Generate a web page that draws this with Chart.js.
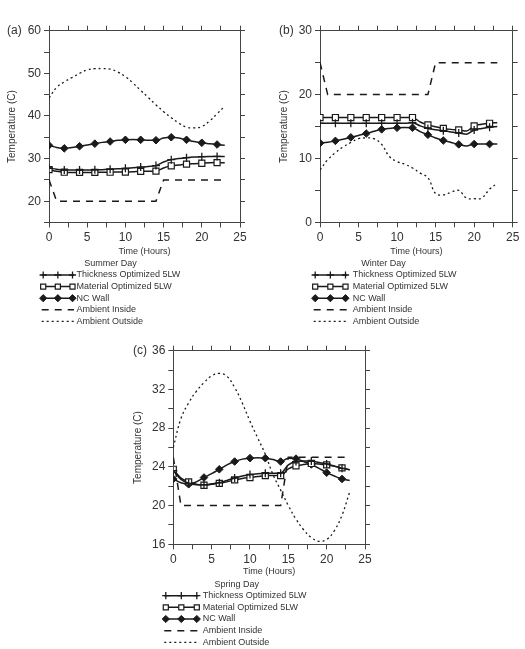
<!DOCTYPE html>
<html>
<head>
<meta charset="utf-8">
<script src="https://cdn.jsdelivr.net/npm/chart.js@4.4.1/dist/chart.umd.min.js"></script>
<style>
body { margin: 0; background: #fff; width: 525px; height: 649px; position: relative; overflow: hidden; }
canvas { position: absolute; }
#chartA { left: 0; top: 0; }
#chartB { left: 262px; top: 0; }
#chartC { left: 120px; top: 335px; }
</style>
</head>
<body>
<canvas id="chartA" width="262" height="335"></canvas>
<canvas id="chartB" width="263" height="335"></canvas>
<canvas id="chartC" width="262" height="314"></canvas>
<script>
// hours of the day
const hours = [0, 1, 2, 3, 4, 5, 6, 7, 8, 9, 10, 11, 12, 13, 14, 15, 16, 17, 18, 19, 20, 21, 22, 23];
const seriesNames = ['Thickness Optimized 5LW', 'Material Optimized 5LW', 'NC Wall', 'Ambient Inside', 'Ambient Outside'];

// (a) summer day
const summerThickness = [27.8, 27.5, 27.3, 27.3, 27.3, 27.3, 27.35, 27.4, 27.5, 27.6, 27.7, 27.85, 28.0, 28.15, 28.35, 29.2, 29.75, 30.0, 30.2, 30.35, 30.45, 30.5, 30.5, 30.5];
const summerMaterial = [27.4, 27.0, 26.8, 26.75, 26.75, 26.75, 26.75, 26.8, 26.8, 26.85, 26.85, 26.9, 27.0, 27.0, 27.05, 27.8, 28.3, 28.5, 28.7, 28.8, 28.9, 29.0, 29.05, 29.0];
const summerNC = [33.1, 32.6, 32.4, 32.6, 32.9, 33.2, 33.5, 33.8, 34.0, 34.3, 34.4, 34.5, 34.4, 34.3, 34.3, 34.8, 35.0, 34.8, 34.4, 34.0, 33.7, 33.5, 33.3, 33.1];
const summerInside = [25, 20, 20, 20, 20, 20, 20, 20, 20, 20, 20, 20, 20, 20, 20, 25, 25, 25, 25, 25, 25, 25, 25, 25];
const summerOutside = [44.2, 46.7, 48.0, 49.0, 50.0, 50.8, 51.1, 51.1, 51.0, 50.3, 49.2, 47.7, 46.0, 44.3, 42.6, 41.0, 39.6, 38.3, 37.4, 37.2, 37.5, 38.8, 40.5, 42.3];

// (b) winter day
const winterThickness = [15.5, 15.5, 15.5, 15.5, 15.5, 15.5, 15.5, 15.5, 15.5, 15.5, 15.5, 15.5, 15.6, 15.1, 14.7, 14.5, 14.35, 14.15, 14.0, 13.8, 14.45, 14.7, 14.9, 15.0];
const winterMaterial = [16.4, 16.4, 16.4, 16.4, 16.4, 16.4, 16.4, 16.4, 16.4, 16.4, 16.4, 16.4, 16.4, 15.7, 15.25, 14.95, 14.7, 14.55, 14.45, 14.3, 15.1, 15.35, 15.5, 15.6];
const winterNC = [12.4, 12.55, 12.75, 13.0, 13.3, 13.6, 13.9, 14.25, 14.55, 14.7, 14.8, 14.85, 14.8, 14.2, 13.7, 13.2, 12.8, 12.5, 12.2, 11.95, 12.25, 12.25, 12.25, 12.25];
const winterInside = [25, 20, 20, 20, 20, 20, 20, 20, 20, 20, 20, 20, 20, 20, 20, 25, 25, 25, 25, 25, 25, 25, 25, 25];
const winterOutside = [8.2, 9.8, 10.9, 11.8, 12.5, 13.1, 13.2, 13.1, 12.2, 10.3, 9.5, 9.1, 8.5, 7.7, 7.0, 4.5, 4.3, 4.7, 5.0, 3.8, 3.7, 3.8, 5.2, 6.1];

// (c) spring day
const springThickness = [23.6, 22.7, 22.3, 22.15, 22.15, 22.25, 22.35, 22.6, 22.85, 23.05, 23.2, 23.3, 23.35, 23.35, 23.35, 24.2, 24.55, 24.6, 24.6, 24.45, 24.3, 24.1, 23.85, 23.7];
const springMaterial = [23.75, 22.85, 22.45, 22.2, 22.1, 22.2, 22.3, 22.45, 22.65, 22.8, 22.9, 23.0, 23.1, 23.1, 23.1, 23.8, 24.1, 24.25, 24.35, 24.3, 24.2, 24.05, 23.9, 23.7];
const springNC = [22.75, 22.35, 22.2, 22.45, 22.9, 23.3, 23.75, 24.2, 24.55, 24.8, 24.9, 24.95, 24.9, 24.75, 24.55, 24.9, 24.85, 24.55, 24.25, 23.85, 23.4, 23.05, 22.75, 22.6];
const springInside = [25, 20, 20, 20, 20, 20, 20, 20, 20, 20, 20, 20, 20, 20, 20, 25, 25, 25, 25, 25, 25, 25, 25, 25];
const springOutside = [26.0, 29.0, 30.6, 31.8, 32.7, 33.4, 33.65, 33.35, 32.2, 30.6, 28.7, 27.0, 25.3, 23.2, 21.6, 20.0, 18.6, 17.5, 16.7, 16.3, 16.5, 17.4, 19.0, 21.4];

const FONT = '"Liberation Sans", Arial, sans-serif';
const INK = '#1a1a1a';
const AXIS = '#444';
Chart.defaults.font.family = FONT;
Chart.defaults.color = '#333';

// marker only every 2 hours
const everyOther = r => c => (c.dataIndex % 2 === 0 ? r : 0);

const styles = [
    { pointStyle: 'cross', pointRadius: everyOther(4), pointBorderWidth: 1.3, pointBackgroundColor: INK, cubicInterpolationMode: 'monotone', marker: true },
    { pointStyle: 'rect', pointRadius: everyOther(4.3), pointBorderWidth: 1.2, pointBackgroundColor: '#fff', cubicInterpolationMode: 'monotone', marker: true },
    { pointStyle: 'rectRot', pointRadius: everyOther(3.8), pointBorderWidth: 1, pointBackgroundColor: INK, cubicInterpolationMode: 'monotone', marker: true },
    { pointRadius: 0, borderDash: [7, 6], tension: 0 },
    { pointRadius: 0, borderDash: [2, 3], borderWidth: 1.3, tension: 0.4 }
];

function buildDatasets(list) {
    return list.map((values, i) => Object.assign({
        label: seriesNames[i],
        data: hours.map((h, k) => ({ x: h, y: values[k] })),
        borderColor: INK,
        pointBorderColor: INK,
        borderWidth: 1.5,
        pointHoverRadius: 0
    }, styles[i]));
}

// panel label + the legend stacked under the plot
const stackLegend = {
    id: 'stackLegend',
    afterDraw(chart, args, o) {
        const ctx = chart.ctx;
        ctx.save();
        ctx.fillStyle = '#333';
        ctx.textBaseline = 'middle';
        ctx.font = '12px ' + FONT;
        ctx.textAlign = 'left';
        ctx.fillText(o.panel, o.panelX, o.panelY);
        ctx.font = '9px ' + FONT;
        ctx.textAlign = 'center';
        ctx.fillText(o.title, o.titleX, o.titleY);
        chart.data.datasets.forEach((ds, i) => {
            const y = o.rowY + i * o.rowStep;
            ctx.strokeStyle = ds.borderColor;
            ctx.lineWidth = ds.borderWidth;
            ctx.setLineDash(ds.borderDash || []);
            ctx.beginPath();
            ctx.moveTo(o.x0, y);
            ctx.lineTo(o.x1, y);
            ctx.stroke();
            ctx.setLineDash([]);
            if (ds.marker) {
                const mid = (o.x0 + o.x1) / 2;
                [o.x0 + 1.5, mid, o.x1 - 1.5].forEach(x => {
                    ctx.fillStyle = ds.pointBackgroundColor;
                    ctx.strokeStyle = ds.pointBorderColor;
                    ctx.lineWidth = ds.pointBorderWidth;
                    Chart.helpers.drawPoint(ctx, { pointStyle: ds.pointStyle, radius: 3.6, borderWidth: ds.pointBorderWidth, rotation: 0 }, x, y);
                });
            }
            ctx.fillStyle = '#333';
            ctx.textAlign = 'left';
            ctx.fillText(ds.label, o.textX, y);
        });
        ctx.restore();
    }
};

function makeChart(id, p) {
    const grid = { drawOnChartArea: false, tickLength: 5, color: AXIS, lineWidth: 1 };
    const border = { color: AXIS, width: 1 };
    return new Chart(document.getElementById(id), {
        type: 'line',
        data: { datasets: buildDatasets(p.series) },
        options: {
            responsive: false,
            animation: false,
            events: [],
            layout: { padding: { left: 0, top: 0, right: 0, bottom: p.padBottom } },
            plugins: {
                legend: { display: false },
                tooltip: { enabled: false },
                stackLegend: p.legend
            },
            scales: {
                x: {
                    type: 'linear', position: 'bottom', min: 0, max: 25,
                    ticks: { stepSize: 2.5, autoSkip: false, maxRotation: 0, padding: 3, font: { size: 12 },
                        callback: v => (v % 5 === 0 ? String(v) : '') },
                    grid, border,
                    title: { display: true, text: 'Time (Hours)', font: { size: 9 }, padding: { top: 0, bottom: 2 } },
                    afterFit: s => { s.height = p.bottomH; }
                },
                x2: {
                    type: 'linear', position: 'top', min: 0, max: 25,
                    ticks: { stepSize: 2.5, display: false },
                    grid, border,
                    afterFit: s => { s.height = p.top; }
                },
                y: {
                    type: 'linear', position: 'left', min: p.yMin, max: p.yMax,
                    ticks: { stepSize: p.yStep, autoSkip: false, padding: 3, font: { size: 12 },
                        callback: v => (v % p.yMajor === 0 ? String(v) : '') },
                    grid, border,
                    title: { display: true, text: 'Temperature (C)', font: { size: 10 }, padding: { top: p.titlePad, bottom: 0 } },
                    afterFit: s => { s.width = p.left; }
                },
                y2: {
                    type: 'linear', position: 'right', min: p.yMin, max: p.yMax,
                    ticks: { stepSize: p.yStep, display: false },
                    grid, border,
                    afterFit: s => { s.width = p.rightW; }
                }
            }
        },
        plugins: [stackLegend]
    });
}

makeChart('chartA', {
    series: [summerThickness, summerMaterial, summerNC, summerInside, summerOutside],
    yMin: 15, yMax: 60, yStep: 5, yMajor: 10,
    top: 30.7, left: 49, rightW: 22, bottomH: 36.6, padBottom: 75.9, titlePad: 6.5,
    legend: { panel: '(a)', panelX: 7, panelY: 31, title: 'Summer Day', titleX: 110.5, titleY: 264,
        x0: 41.7, x1: 74, textX: 76.5, rowY: 275, rowStep: 11.6 }
});

makeChart('chartB', {
    series: [winterThickness, winterMaterial, winterNC, winterInside, winterOutside],
    yMin: 0, yMax: 30, yStep: 5, yMajor: 10,
    top: 30.7, left: 58, rightW: 12.3, bottomH: 36.8, padBottom: 75.9, titlePad: 16.7,
    legend: { panel: '(b)', panelX: 17, panelY: 30.5, title: 'Winter Day', titleX: 121.5, titleY: 264,
        x0: 51.7, x1: 85, textX: 90.7, rowY: 275, rowStep: 11.6 }
});

makeChart('chartC', {
    series: [springThickness, springMaterial, springNC, springInside, springOutside],
    yMin: 16, yMax: 36, yStep: 2, yMajor: 4,
    top: 15.7, left: 53.3, rightW: 17, bottomH: 34.8, padBottom: 69.9, titlePad: 12.3,
    legend: { panel: '(c)', panelX: 13, panelY: 15.7, title: 'Spring Day', titleX: 116.7, titleY: 250,
        x0: 44.3, x1: 78.3, textX: 82.7, rowY: 260.7, rowStep: 11.65 }
});
</script>
</body>
</html>
